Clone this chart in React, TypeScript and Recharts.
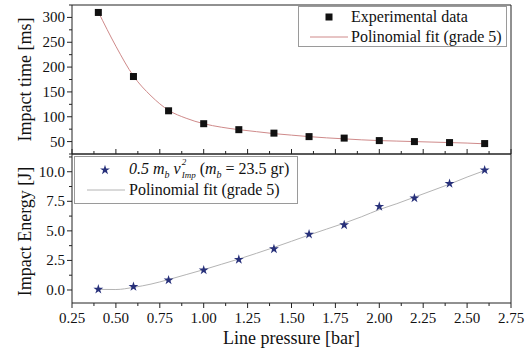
import React from 'react';
import { ComposedChart, Line, Scatter, XAxis, YAxis, Legend, Symbols } from 'recharts';

// Measured points (line pressure in bar)
const pressure = [0.4, 0.6, 0.8, 1.0, 1.2, 1.4, 1.6, 1.8, 2.0, 2.2, 2.4, 2.6];
const impactTime = [310, 181, 112, 86, 74, 67, 60, 57, 52, 50, 48, 46];
const impactEnergy = [0.06, 0.28, 0.84, 1.68, 2.58, 3.47, 4.71, 5.5, 7.06, 7.77, 9.0, 10.14];

// Grade-5 polynomial fit curves, sampled every 0.1 bar
const fitPressure = [0.4, 0.5, 0.6, 0.7, 0.8, 0.9, 1.0, 1.1, 1.2, 1.3, 1.4, 1.5, 1.6, 1.7, 1.8, 1.9, 2.0, 2.1, 2.2, 2.3, 2.4, 2.5, 2.6];
const timeFit = [311, 242, 182, 142, 113, 97, 86, 79, 74, 70, 66, 63, 60, 57.5, 55.5, 53.5, 52, 51, 50, 49, 48, 47, 45.5];
const energyFit = [0.05, 0.04, 0.22, 0.5, 0.88, 1.3, 1.72, 2.17, 2.62, 3.1, 3.6, 4.12, 4.65, 5.15, 5.65, 6.2, 6.8, 7.3, 7.85, 8.4, 8.95, 9.55, 10.1];

// Axis ticks
const xTicks = [0.25, 0.375, 0.5, 0.625, 0.75, 0.875, 1.0, 1.125, 1.25, 1.375, 1.5, 1.625, 1.75, 1.875, 2.0, 2.125, 2.25, 2.375, 2.5, 2.625, 2.75];
const xMajor = [0.25, 0.5, 0.75, 1.0, 1.25, 1.5, 1.75, 2.0, 2.25, 2.5, 2.75];
const timeTicks = [25, 50, 75, 100, 125, 150, 175, 200, 225, 250, 275, 300, 325];
const timeMajor = [50, 100, 150, 200, 250, 300];
const energyTicks = [0, 1.25, 2.5, 3.75, 5.0, 6.25, 7.5, 8.75, 10.0, 11.25];
const energyMajor = [0, 2.5, 5.0, 7.5, 10.0];

const xDomain: [number, number] = [0.25, 2.75];
const timeDomain: [number, number] = [25, 325];
const energyDomain: [number, number] = [-1.1, 11.5];

const FONT = '"Liberation Serif", "Times New Roman", serif';
const AXIS = '#222222';
const TEXT = '#111111';
const SQUARE = '#111111';
const STAR = '#27307a';
const TIME_FIT = '#cf8a8a';
const ENERGY_FIT = '#b4b4b4';

const timePoints = pressure.map((p, i) => ({ p, t: impactTime[i] }));
const timeCurve = fitPressure.map((p, i) => ({ p, fit: timeFit[i] }));
const energyPoints = pressure.map((p, i) => ({ p, e: impactEnergy[i] }));
const energyCurve = fitPressure.map((p, i) => ({ p, fit: energyFit[i] }));

type Side = 'left' | 'right' | 'top' | 'bottom';
interface TickOpts {
  side: Side;
  inward: boolean;
  majors: number[];
  fmt?: (v: number) => string;
}

const makeTick = (o: TickOpts) => (props: any) => {
  const { x, y, payload } = props;
  const v = Number(payload.value);
  const major = o.majors.some((m) => Math.abs(m - v) < 1e-9);
  const len = major ? 5 : 3;
  const dir = o.inward ? -1 : 1;
  let x2 = x;
  let y2 = y;
  if (o.side === 'left') x2 = x - dir * len;
  if (o.side === 'right') x2 = x + dir * len;
  if (o.side === 'top') y2 = y - dir * len;
  if (o.side === 'bottom') y2 = y + dir * len;
  let label: React.ReactNode = null;
  if (o.fmt && major) {
    if (o.side === 'left') {
      label = (
        <text x={x - 7} y={y} textAnchor="end" dominantBaseline="central" fontFamily={FONT} fontSize={15} fill={TEXT}>
          {o.fmt(v)}
        </text>
      );
    } else if (o.side === 'bottom') {
      label = (
        <text x={x} y={y + 15} textAnchor="middle" dominantBaseline="central" fontFamily={FONT} fontSize={15} fill={TEXT}>
          {o.fmt(v)}
        </text>
      );
    }
  }
  return (
    <g>
      <line x1={x} y1={y} x2={x2} y2={y2} stroke={AXIS} strokeWidth={1} />
      {label}
    </g>
  );
};

const yTitle = (text: string, shift: number) => (props: any) => {
  const vb = props.viewBox || { x: 0, y: 0, width: 72, height: 149 };
  const cx = vb.x + 25;
  const cy = vb.y + vb.height / 2 + shift;
  return (
    <text
      x={cx}
      y={cy}
      transform={`rotate(-90 ${cx} ${cy})`}
      textAnchor="middle"
      dominantBaseline="central"
      fontFamily={FONT}
      fontSize={18}
      fill={TEXT}
    >
      {text}
    </text>
  );
};

const xTitle = (text: string) => (props: any) => {
  const vb = props.viewBox || { x: 72, y: 303, width: 439, height: 47 };
  return (
    <text
      x={vb.x + vb.width / 2}
      y={vb.y + 35}
      textAnchor="middle"
      dominantBaseline="central"
      fontFamily={FONT}
      fontSize={18}
      fill={TEXT}
    >
      {text}
    </text>
  );
};

const legendRow: React.CSSProperties = {
  display: 'flex',
  alignItems: 'center',
  height: 20,
  whiteSpace: 'nowrap',
};

const TimeLegend = () => (
  <div
    style={{
      border: '1px solid #9a9a9a',
      background: '#fff',
      width: 196,
      height: 39,
      paddingLeft: 11,
      boxSizing: 'content-box',
      fontFamily: FONT,
      fontSize: 16,
      color: TEXT,
      lineHeight: '20px',
    }}
  >
    <div style={legendRow}>
      <svg width={38} height={20}>
        <rect x={15.5} y={6.5} width={7} height={7} fill={SQUARE} />
      </svg>
      <span style={{ marginLeft: 3 }}>Experimental data</span>
    </div>
    <div style={legendRow}>
      <svg width={38} height={20}>
        <line x1={0} y1={10} x2={38} y2={10} stroke={TIME_FIT} strokeWidth={1} />
      </svg>
      <span style={{ marginLeft: 3 }}>Polinomial fit (grade 5)</span>
    </div>
  </div>
);

const subStyle: React.CSSProperties = { fontSize: 10, position: 'relative', top: 4 };
const tinyStyle: React.CSSProperties = { position: 'absolute', left: 1, fontSize: 9, lineHeight: '9px' };

const EnergyLegend = () => (
  <div
    style={{
      border: '1px solid #9a9a9a',
      background: '#fff',
      width: 210,
      height: 43,
      paddingLeft: 12,
      paddingTop: 3,
      boxSizing: 'content-box',
      fontFamily: FONT,
      fontSize: 16,
      color: TEXT,
      lineHeight: '20px',
    }}
  >
    <div style={legendRow}>
      <svg width={38} height={20}>
        <Symbols cx={18} cy={10} type="star" size={30} fill={STAR} />
      </svg>
      <span style={{ marginLeft: 4 }}>
        <i>
          0.5 m<span style={subStyle}>b</span> v
          <span style={{ display: 'inline-block', position: 'relative', width: 15, height: 20, verticalAlign: 'top' }}>
            <span style={{ ...tinyStyle, top: -1 }}>2</span>
            <span style={{ ...tinyStyle, top: 12 }}>Imp</span>
          </span>
        </i>{' '}
        (<i>m</i>
        <span style={{ ...subStyle, fontStyle: 'italic' }}>b</span> = 23.5 gr)
      </span>
    </div>
    <div style={legendRow}>
      <svg width={38} height={20}>
        <line x1={0} y1={10} x2={38} y2={10} stroke={ENERGY_FIT} strokeWidth={1} />
      </svg>
      <span style={{ marginLeft: 4 }}>Polinomial fit (grade 5)</span>
    </div>
  </div>
);

const W = 526;
const H = 350;

// Frame axes that only carry tick marks; mirrored so they take no room from the plot.
const frameX = (id: string, orientation: 'top' | 'bottom', inward: boolean) => (
  <XAxis
    xAxisId={id}
    dataKey="p"
    orientation={orientation}
    mirror
    type="number"
    domain={xDomain}
    ticks={xTicks}
    interval={0}
    height={20}
    tickSize={0}
    tickMargin={0}
    tickLine={false}
    axisLine={{ stroke: AXIS }}
    tick={makeTick({ side: orientation, inward, majors: xMajor })}
  />
);

const frameY = (domain: [number, number], ticks: number[], majors: number[]) => (
  <YAxis
    yAxisId="r"
    orientation="right"
    mirror
    type="number"
    domain={domain}
    ticks={ticks}
    interval={0}
    width={20}
    tickSize={0}
    tickMargin={0}
    tickLine={false}
    axisLine={{ stroke: AXIS }}
    tick={makeTick({ side: 'right', inward: true, majors })}
  />
);

export default function App() {
  const pos: React.CSSProperties = { position: 'absolute', left: 0, top: 0 };
  return (
    <div style={{ position: 'absolute', left: 0, top: 0, width: W, height: H, background: '#fff' }}>
      {/* Lower panel: impact energy */}
      <div style={pos}>
        <ComposedChart width={W} height={H} margin={{ top: 154, right: 15, bottom: 0, left: 0 }}>
          <XAxis
            xAxisId="b"
            dataKey="p"
            type="number"
            domain={xDomain}
            ticks={xTicks}
            interval={0}
            height={47}
            tickSize={0}
            tickMargin={0}
            tickLine={false}
            axisLine={{ stroke: AXIS }}
            tick={makeTick({ side: 'bottom', inward: false, majors: xMajor, fmt: (v) => v.toFixed(2) })}
            label={xTitle('Line pressure [bar]')}
          />
          {frameX('t', 'top', true)}
          <YAxis
            yAxisId="l"
            type="number"
            domain={energyDomain}
            ticks={energyTicks}
            interval={0}
            width={72}
            tickSize={0}
            tickMargin={0}
            tickLine={false}
            axisLine={{ stroke: AXIS }}
            tick={makeTick({ side: 'left', inward: false, majors: energyMajor, fmt: (v) => v.toFixed(1) })}
            label={yTitle('Impact Energy [J]', 3)}
          />
          {frameY(energyDomain, energyTicks, energyMajor)}
          <Line
            xAxisId="b"
            yAxisId="l"
            data={energyCurve}
            dataKey="fit"
            type="monotone"
            stroke={ENERGY_FIT}
            strokeWidth={1}
            dot={false}
            activeDot={false}
            isAnimationActive={false}
          />
          <Scatter
            xAxisId="b"
            yAxisId="l"
            data={energyPoints}
            dataKey="e"
            isAnimationActive={false}
            shape={(p: any) => <Symbols cx={p.cx} cy={p.cy} type="star" size={30} fill={STAR} />}
          />
          <Legend
            layout="vertical"
            align="center"
            verticalAlign="middle"
            wrapperStyle={{ left: 74, top: 156 }}
            content={() => <EnergyLegend />}
          />
        </ComposedChart>
      </div>

      {/* Upper panel: impact time */}
      <div style={pos}>
        <ComposedChart width={W} height={H} margin={{ top: 5, right: 15, bottom: 196, left: 0 }}>
          {frameX('b', 'bottom', true)}
          {frameX('t', 'top', true)}
          <YAxis
            yAxisId="l"
            type="number"
            domain={timeDomain}
            ticks={timeTicks}
            interval={0}
            width={72}
            tickSize={0}
            tickMargin={0}
            tickLine={false}
            axisLine={{ stroke: AXIS }}
            tick={makeTick({ side: 'left', inward: false, majors: timeMajor, fmt: (v) => String(v) })}
            label={yTitle('Impact time [ms]', 0)}
          />
          {frameY(timeDomain, timeTicks, timeMajor)}
          <Line
            xAxisId="b"
            yAxisId="l"
            data={timeCurve}
            dataKey="fit"
            type="monotone"
            stroke={TIME_FIT}
            strokeWidth={1}
            dot={false}
            activeDot={false}
            isAnimationActive={false}
          />
          <Scatter
            xAxisId="b"
            yAxisId="l"
            data={timePoints}
            dataKey="t"
            isAnimationActive={false}
            shape={(p: any) => <rect x={p.cx - 3.5} y={p.cy - 3.5} width={7} height={7} fill={SQUARE} />}
          />
          <Legend
            layout="vertical"
            align="center"
            verticalAlign="middle"
            wrapperStyle={{ left: 298, top: 6 }}
            content={() => <TimeLegend />}
          />
        </ComposedChart>
      </div>
    </div>
  );
}
